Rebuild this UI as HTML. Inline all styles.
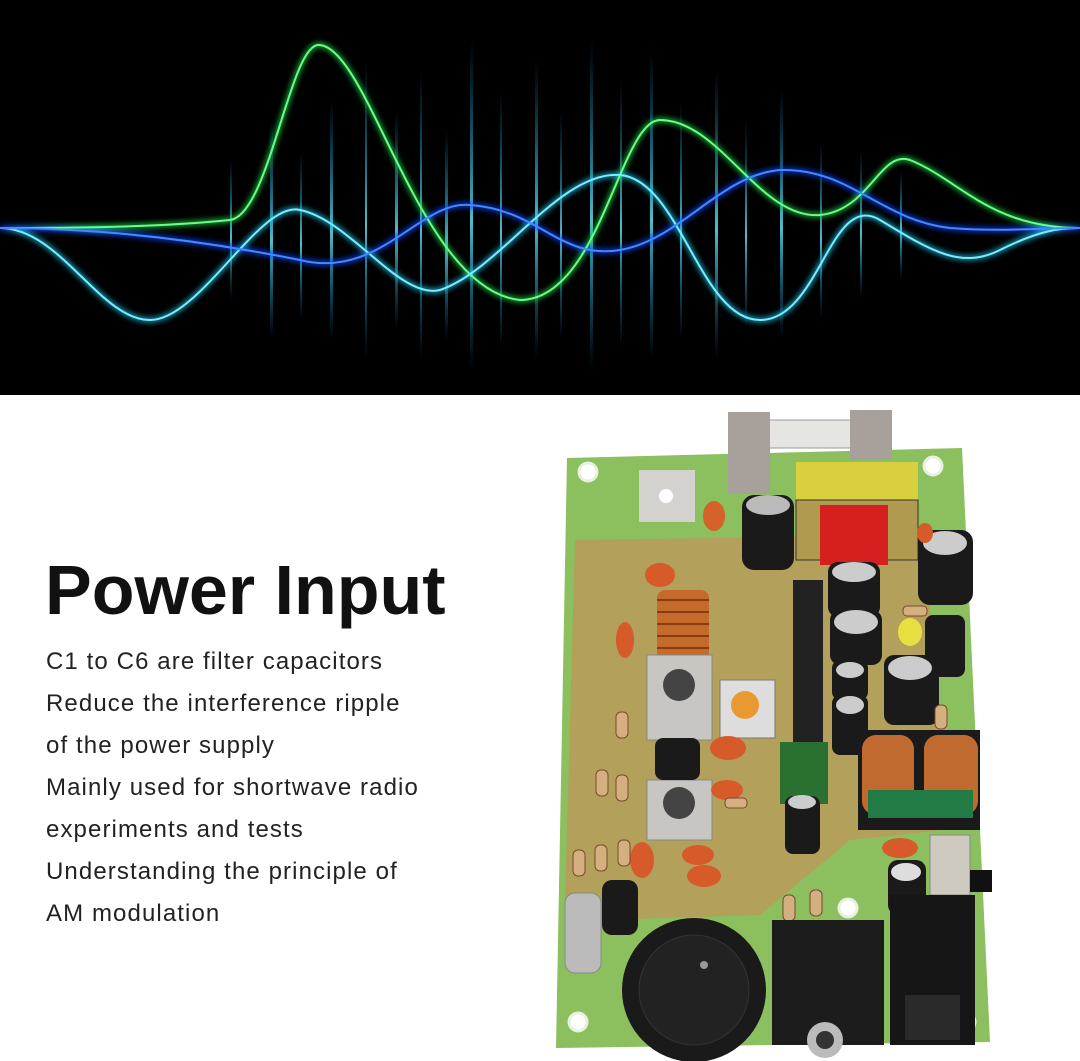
<!DOCTYPE html>
<html><head><meta charset="utf-8"><style>
html,body{margin:0;padding:0;width:1080px;height:1061px;overflow:hidden;background:#fff;font-family:"Liberation Sans",sans-serif}
.top{position:absolute;left:0;top:0;width:1080px;height:395px;background:#000}
h1{position:absolute;left:45px;top:550px;margin:0;font-size:70px;font-weight:bold;color:#111;letter-spacing:0}
.t{position:absolute;left:46px;font-size:24px;color:#222;letter-spacing:1.1px}
</style></head><body>
<div class="top">
<svg width="1080" height="395" viewBox="0 0 1080 395">
<defs>
<filter id="g"><feGaussianBlur stdDeviation="3"/></filter>
<linearGradient id="bar" x1="0" y1="0" x2="0" y2="1"><stop offset="0" stop-color="#0af" stop-opacity="0"/><stop offset=".55" stop-color="#6ef" stop-opacity="1"/><stop offset="1" stop-color="#0af" stop-opacity="0"/></linearGradient>
</defs>
<g fill="url(#bar)" opacity=".8">
<rect x="270" y="120" width="3" height="220"/><rect x="300" y="150" width="2" height="170"/><rect x="330" y="100" width="3" height="240"/>
<rect x="365" y="60" width="2" height="300"/><rect x="395" y="110" width="3" height="220"/><rect x="420" y="70" width="2" height="290"/>
<rect x="445" y="130" width="3" height="210"/><rect x="470" y="40" width="3" height="330"/><rect x="500" y="90" width="2" height="260"/>
<rect x="535" y="60" width="3" height="300"/><rect x="560" y="110" width="2" height="230"/><rect x="590" y="40" width="3" height="330"/>
<rect x="620" y="80" width="2" height="270"/><rect x="650" y="50" width="3" height="310"/><rect x="680" y="100" width="2" height="240"/>
<rect x="715" y="70" width="3" height="290"/><rect x="745" y="120" width="2" height="210"/><rect x="780" y="90" width="3" height="250"/>
<rect x="820" y="140" width="2" height="180"/><rect x="860" y="150" width="2" height="150"/><rect x="900" y="170" width="2" height="110"/>
<rect x="230" y="160" width="2" height="140"/>
</g>
<g fill="none" stroke-width="4" filter="url(#g)">
<path d="M0 228 C120 228 180 225 230 220 C270 215 290 40 320 45 C370 50 420 290 520 300 C600 300 620 120 660 120 C720 120 760 220 820 215 C870 210 880 150 910 160 C960 180 990 228 1080 228" stroke="#2c4"/>
<path d="M0 228 C60 228 100 320 150 320 C200 320 260 200 300 210 C350 220 400 300 440 290 C500 270 560 170 620 175 C680 180 700 320 760 320 C820 320 830 190 880 220 C930 250 960 270 1000 250 C1040 230 1060 228 1080 228" stroke="#2bd"/>
<path d="M0 228 C100 228 200 240 300 260 C380 280 420 200 470 205 C540 210 560 260 620 250 C680 240 720 175 780 170 C850 168 880 220 950 228 C1000 232 1040 228 1080 228" stroke="#14f"/>
</g>
<g fill="none" stroke-width="2">
<path d="M0 228 C120 228 180 225 230 220 C270 215 290 40 320 45 C370 50 420 290 520 300 C600 300 620 120 660 120 C720 120 760 220 820 215 C870 210 880 150 910 160 C960 180 990 228 1080 228" stroke="#6f8"/>
<path d="M0 228 C60 228 100 320 150 320 C200 320 260 200 300 210 C350 220 400 300 440 290 C500 270 560 170 620 175 C680 180 700 320 760 320 C820 320 830 190 880 220 C930 250 960 270 1000 250 C1040 230 1060 228 1080 228" stroke="#7ef"/>
<path d="M0 228 C100 228 200 240 300 260 C380 280 420 200 470 205 C540 210 560 260 620 250 C680 240 720 175 780 170 C850 168 880 220 950 228 C1000 232 1040 228 1080 228" stroke="#48f"/>
</g>
</svg>
</div>
<h1>Power Input</h1>
<div class="t" style="top:648px">C1 to C6 are filter capacitors</div>
<div class="t" style="top:690px">Reduce the interference ripple</div>
<div class="t" style="top:732px">of the power supply</div>
<div class="t" style="top:774px">Mainly used for shortwave radio</div>
<div class="t" style="top:816px">experiments and tests</div>
<div class="t" style="top:858px">Understanding the principle of</div>
<div class="t" style="top:900px">AM modulation</div>
<svg style="position:absolute;left:0;top:0" width="1080" height="1061" viewBox="0 0 1080 1061">
<polygon points="567,458 962,448 990,1042 556,1048" fill="#8cbf5e"/>
<polygon points="575,540 925,535 945,830 850,840 760,915 600,920 565,900" fill="#b3a05a"/>
<g fill="#fff" stroke="#e8f0e0" stroke-width="3">
<circle cx="588" cy="472" r="9"/><circle cx="933" cy="466" r="9"/><circle cx="578" cy="1022" r="9"/><circle cx="966" cy="1022" r="9"/><circle cx="848" cy="908" r="9"/></g>
<rect x="730" y="420" width="160" height="28" rx="6" fill="#e5e5e2" stroke="#999"/>
<rect x="728" y="412" width="42" height="82" fill="#a8a09a"/><rect x="850" y="410" width="42" height="50" fill="#a8a09a"/>
<rect x="639" y="470" width="56" height="52" fill="#d4d2cf"/><circle cx="666" cy="496" r="7" fill="#fff"/>
<ellipse cx="714" cy="516" rx="11" ry="15" fill="#d4622a"/>
<rect x="796" y="462" width="122" height="40" fill="#d9d040"/><rect x="796" y="500" width="122" height="60" fill="#b09a50" stroke="#333"/>
<rect x="820" y="505" width="68" height="60" fill="#d62020"/>
<rect x="742" y="495" width="52" height="75" rx="12" fill="#1a1a1a"/><ellipse cx="768" cy="505" rx="22" ry="10" fill="#bbb"/>
<rect x="918" y="530" width="55" height="75" rx="12" fill="#1a1a1a"/><ellipse cx="945" cy="543" rx="22" ry="12" fill="#ccc"/>
<rect x="793" y="580" width="30" height="170" fill="#222"/>
<g fill="#1a1a1a"><rect x="828" y="562" width="52" height="55" rx="10"/><rect x="830" y="610" width="52" height="55" rx="10"/><rect x="832" y="660" width="36" height="40" rx="8"/><rect x="832" y="695" width="36" height="60" rx="8"/><rect x="884" y="655" width="55" height="70" rx="10"/><rect x="925" y="615" width="40" height="62" rx="8"/></g>
<g fill="#ccc"><ellipse cx="854" cy="572" rx="22" ry="10"/><ellipse cx="856" cy="622" rx="22" ry="12"/><ellipse cx="850" cy="670" rx="14" ry="8"/><ellipse cx="850" cy="705" rx="14" ry="9"/><ellipse cx="910" cy="668" rx="22" ry="12"/></g>
<ellipse cx="910" cy="632" rx="12" ry="14" fill="#e8e040"/>
<rect x="657" y="590" width="52" height="70" rx="8" fill="#c46a2a"/>
<g stroke="#8a3a10" stroke-width="2"><line x1="657" y1="600" x2="709" y2="600"/><line x1="657" y1="612" x2="709" y2="612"/><line x1="657" y1="624" x2="709" y2="624"/><line x1="657" y1="636" x2="709" y2="636"/><line x1="657" y1="648" x2="709" y2="648"/></g>
<rect x="647" y="655" width="65" height="85" fill="#c8c6c2" stroke="#888"/><circle cx="679" cy="685" r="16" fill="#444"/>
<rect x="647" y="780" width="65" height="60" fill="#c8c6c2" stroke="#888"/><circle cx="679" cy="803" r="16" fill="#444"/>
<rect x="655" y="738" width="45" height="42" rx="8" fill="#1a1a1a"/>
<rect x="720" y="680" width="55" height="58" fill="#ddd" stroke="#777"/><circle cx="745" cy="705" r="14" fill="#e89a30"/>
<rect x="780" y="742" width="48" height="62" fill="#2a7030"/>
<rect x="785" y="796" width="35" height="58" rx="8" fill="#1a1a1a"/><ellipse cx="802" cy="802" rx="14" ry="7" fill="#ccc"/>
<rect x="858" y="730" width="122" height="100" fill="#1a1a1a"/>
<rect x="862" y="735" width="52" height="80" rx="14" fill="#c06a30"/><rect x="924" y="735" width="54" height="80" rx="14" fill="#c06a30"/>
<rect x="868" y="790" width="105" height="28" fill="#227a45"/>
<g fill="#d65a2a"><ellipse cx="728" cy="748" rx="18" ry="12"/><ellipse cx="727" cy="790" rx="16" ry="10"/><ellipse cx="642" cy="860" rx="12" ry="18"/><ellipse cx="698" cy="855" rx="16" ry="10"/><ellipse cx="704" cy="876" rx="17" ry="11"/><ellipse cx="900" cy="848" rx="18" ry="10"/><ellipse cx="660" cy="575" rx="15" ry="12"/><ellipse cx="625" cy="640" rx="9" ry="18"/><ellipse cx="925" cy="533" rx="8" ry="10"/></g>
<g fill="#d4b080" stroke="#7a4a2a" stroke-width="1"><rect x="616" y="712" width="12" height="26" rx="5"/><rect x="596" y="770" width="12" height="26" rx="5"/><rect x="616" y="775" width="12" height="26" rx="5"/><rect x="573" y="850" width="12" height="26" rx="5"/><rect x="595" y="845" width="12" height="26" rx="5"/><rect x="618" y="840" width="12" height="26" rx="5"/><rect x="783" y="895" width="12" height="26" rx="5"/><rect x="810" y="890" width="12" height="26" rx="5"/><rect x="725" y="798" width="22" height="10" rx="4"/><rect x="935" y="705" width="12" height="24" rx="5"/><rect x="903" y="606" width="24" height="10" rx="4"/></g>
<rect x="565" y="893" width="36" height="80" rx="10" fill="#bbb" stroke="#888"/>
<rect x="602" y="880" width="36" height="55" rx="10" fill="#1a1a1a"/>
<circle cx="694" cy="990" r="72" fill="#1a1a1a"/><circle cx="694" cy="990" r="55" fill="#222" stroke="#333"/><circle cx="704" cy="965" r="4" fill="#999"/>
<rect x="772" y="920" width="112" height="125" fill="#1c1c1c"/><circle cx="825" cy="1040" r="18" fill="#bbb"/><circle cx="825" cy="1040" r="9" fill="#333"/>
<rect x="930" y="835" width="40" height="60" fill="#cfcac0" stroke="#888"/><rect x="970" y="870" width="22" height="22" fill="#111"/>
<rect x="888" y="860" width="38" height="55" rx="10" fill="#1a1a1a"/><ellipse cx="906" cy="872" rx="15" ry="9" fill="#ddd"/>
<rect x="890" y="895" width="85" height="150" fill="#161616"/><rect x="905" y="995" width="55" height="45" fill="#2a2a2a"/>
</svg>
</body></html>
